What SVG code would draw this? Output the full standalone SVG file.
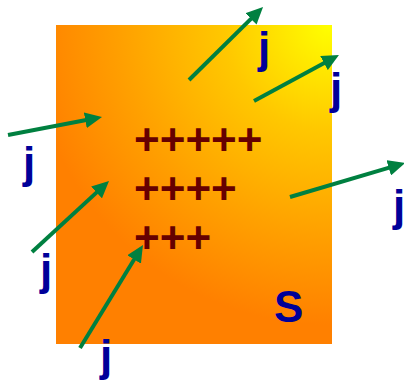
<svg xmlns="http://www.w3.org/2000/svg" width="404" height="381" viewBox="0 0 404 381">
<style>
.j{font-family:"Liberation Sans",Arial,sans-serif;font-weight:bold;font-size:44px;fill:#000099}
.p{font-family:"Liberation Sans",Arial,sans-serif;font-weight:bold;font-size:44px;fill:#660000}
.a{stroke:#008040;stroke-width:4;fill:none;marker-end:url(#ah)}
</style>
<defs>
<radialGradient id="g" gradientUnits="userSpaceOnUse" cx="330" cy="25" r="300">
<stop offset="0" stop-color="#FFFF00"/>
<stop offset="0.35" stop-color="#FFC800"/>
<stop offset="0.7" stop-color="#FFA000"/>
<stop offset="1" stop-color="#FF8000"/>
</radialGradient>
<marker id="ah" markerUnits="userSpaceOnUse" markerWidth="18" markerHeight="16" viewBox="0 0 18 16" refX="5" refY="8" orient="auto">
<path d="M0,0 L17,8 L0,16 z" fill="#008040"/>
</marker>
</defs>
<g id="plate">
<rect x="56" y="25" width="276" height="319" fill="url(#g)"/>
<text class="p" x="134" y="155">+++++</text>
<text class="p" x="134" y="204">++++</text>
<text class="p" x="134" y="253">+++</text>
<text class="j" x="274" y="322" font-size="46">S</text>
</g>
<g id="connectors">
<line class="a" x1="189" y1="80" x2="254.5" y2="15.4"/>
<line class="a" x1="254" y1="101" x2="328.4" y2="60.7"/>
<line class="a" x1="8" y1="135" x2="90.2" y2="119.3"/>
<line class="a" x1="32" y1="252" x2="100.2" y2="189.1"/>
<line class="a" x1="80" y1="348" x2="136.7" y2="255.2"/>
<line class="a" x1="290" y1="197" x2="393.5" y2="166.4"/>
</g>
<g id="labels">
<text class="j" x="258" y="63">j</text>
<text class="j" x="330" y="104">j</text>
<text class="j" x="23" y="178">j</text>
<text class="j" x="40" y="285">j</text>
<text class="j" x="100" y="371">j</text>
<text class="j" x="393" y="221">j</text>
</g>
</svg>
